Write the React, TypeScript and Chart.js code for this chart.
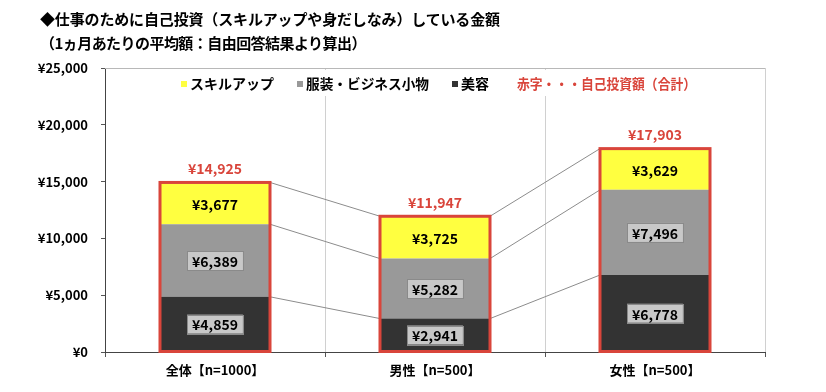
import React, { useEffect, useRef } from "react";
import { Chart, registerables } from "chart.js";

Chart.register(...registerables);

const FONT = '"Noto Sans CJK JP", "Noto Sans", sans-serif';

const titleLines = [
  "◆仕事のために自己投資（スキルアップや身だしなみ）している金額",
  "（1ヵ月あたりの平均額：自由回答結果より算出）",
];
const categories = ["全体【n=1000】", "男性【n=500】", "女性【n=500】"];
const seriesNames = ["美容", "服装・ビジネス小物", "スキルアップ"];
const beauty = [4859, 2941, 6778];
const clothing = [6389, 5282, 7496];
const skill = [3677, 3725, 3629];
const totals = [14925, 11947, 17903];
const totalLegend = "赤字・・・自己投資額（合計）";
const yMin = 0;
const yMax = 25000;
const yStep = 5000;

const colors = ["#333333", "#999999", "#ffff40"];
const legendOrder = [2, 1, 0];
const RED = "#d9453b";

const yen = (v: number) => "¥" + v.toLocaleString("en-US");

const overlay = {
  id: "overlay",
  afterDatasetsDraw(chart: any) {
    const ctx: CanvasRenderingContext2D = chart.ctx;
    const metas = [0, 1, 2].map((i) => chart.getDatasetMeta(i));
    const props = (d: number, c: number) =>
      metas[d].data[c].getProps(["x", "y", "base", "width"], true);
    const data = chart.data.datasets.map((ds: any) => ds.data as number[]);
    ctx.save();
    // series lines
    ctx.strokeStyle = "#8c8c8c";
    ctx.lineWidth = 1;
    for (let c = 0; c < categories.length - 1; c++) {
      for (let d = 0; d < 3; d++) {
        const a = props(d, c);
        const b = props(d, c + 1);
        ctx.beginPath();
        ctx.moveTo(a.x + a.width / 2, a.y);
        ctx.lineTo(b.x - b.width / 2, b.y);
        ctx.stroke();
      }
    }
    // outlines
    ctx.strokeStyle = RED;
    ctx.lineWidth = 3;
    for (let c = 0; c < categories.length; c++) {
      const top = props(2, c);
      const bot = props(0, c);
      ctx.strokeRect(
        bot.x - bot.width / 2,
        top.y,
        bot.width,
        bot.base - top.y
      );
    }
    // segment labels
    ctx.textAlign = "center";
    ctx.textBaseline = "middle";
    ctx.font = `bold 14px ${FONT}`;
    for (let d = 0; d < 3; d++) {
      for (let c = 0; c < categories.length; c++) {
        const p = props(d, c);
        const cy = (p.y + p.base) / 2;
        const txt = yen(data[d][c]);
        if (d < 2) {
          const w = ctx.measureText(txt).width + 10;
          const h = 19;
          ctx.fillStyle = "#c8c8c8";
          ctx.fillRect(p.x - w / 2, cy - h / 2, w, h);
          ctx.strokeStyle = "#8a8a8a";
          ctx.lineWidth = 1;
          ctx.strokeRect(
            Math.round(p.x - w / 2) + 0.5,
            Math.round(cy - h / 2) + 0.5,
            Math.round(w),
            h
          );
        }
        ctx.fillStyle = "#000";
        ctx.fillText(txt, p.x, cy + 1);
      }
    }
    // totals
    ctx.fillStyle = RED;
    for (let c = 0; c < categories.length; c++) {
      const p = props(2, c);
      ctx.fillText(yen(totals[c]), p.x, p.y - 14);
    }
    ctx.restore();
  },
  afterDraw(chart: any) {
    const ctx: CanvasRenderingContext2D = chart.ctx;
    const area = chart.chartArea;
    ctx.save();
    // top border
    ctx.strokeStyle = "#b8b8b8";
    ctx.lineWidth = 1;
    ctx.beginPath();
    ctx.moveTo(area.left, Math.round(area.top) + 0.5);
    ctx.lineTo(area.right, Math.round(area.top) + 0.5);
    ctx.stroke();
    // legend background
    ctx.fillStyle = "#fff";
    ctx.fillRect(area.left + 45, area.top + 2, area.right - area.left - 80, 26);
    // legend items
    ctx.font = `bold 14px ${FONT}`;
    ctx.textBaseline = "middle";
    ctx.textAlign = "left";
    const cy = area.top + 16;
    let x = area.left + 76;
    legendOrder.forEach((d) => {
      ctx.fillStyle = colors[d];
      ctx.fillRect(x, cy - 3, 6, 6);
      x += 9;
      ctx.fillStyle = "#000";
      ctx.save();
      const w = ctx.measureText(seriesNames[d]).width;
      const sx = d === 1 ? Math.min(1, 123 / w) : 1;
      ctx.translate(x, cy);
      ctx.scale(sx, 1);
      ctx.fillText(seriesNames[d], 0, 0);
      ctx.restore();
      x += w * sx + 23;
    });
    x += 5;
    ctx.fillStyle = RED;
    const tw = ctx.measureText(totalLegend).width;
    const s = Math.min(1, 179 / tw);
    ctx.translate(x, cy);
    ctx.scale(s, 1);
    ctx.fillText(totalLegend, 0, 0);
    ctx.restore();
  },
};

export default function App() {
  const ref = useRef<HTMLCanvasElement | null>(null);
  useEffect(() => {
    if (!ref.current) return;
    const chart = new Chart(ref.current, {
      type: "bar",
      data: {
        labels: categories,
        datasets: [beauty, clothing, skill].map((vals, i) => ({
          label: seriesNames[i],
          data: vals,
          backgroundColor: colors[i],
          borderWidth: 0,
          barPercentage: 0.5,
          categoryPercentage: 1,
        })),
      },
      options: {
        animation: false,
        responsive: true,
        maintainAspectRatio: false,
        layout: { padding: { top: 68, right: 61, left: 0, bottom: 0 } },
        plugins: {
          legend: { display: false },
          tooltip: { enabled: false },
          title: { display: false },
        },
        scales: {
          x: {
            stacked: true,
            afterFit: (s: any) => {
              s.height = 40;
            },
            grid: {
              offset: true,
              color: "#d0d0d0",
              tickColor: "#555",
              tickLength: 5,
              drawOnChartArea: true,
            },
            border: { color: "#444", width: 1 },
            ticks: {
              color: "#000",
              font: { family: FONT, size: 13, weight: "bold" },
              padding: 5,
            },
          },
          y: {
            stacked: true,
            min: yMin,
            max: yMax,
            afterFit: (s: any) => {
              s.width = 105;
            },
            grid: {
              drawOnChartArea: false,
              tickColor: "#555",
              tickLength: 4,
            },
            border: { color: "#444", width: 1 },
            ticks: {
              stepSize: yStep,
              color: "#000",
              padding: 13,
              font: { family: FONT, size: 13, weight: "bold" },
              callback: (v: any) => yen(Number(v)),
            },
          },
        },
      },
      plugins: [overlay],
    });
    return () => chart.destroy();
  }, []);

  return (
    <div style={{ position: "absolute", left: 0, top: 0, width: 826, height: 392, background: "#fff" }}>
      <canvas ref={ref} />
      <div
        style={{
          position: "absolute",
          left: 40,
          top: 7,
          fontFamily: FONT,
          fontWeight: "bold",
          fontSize: 15,
          lineHeight: "24px",
          color: "#000",
          whiteSpace: "nowrap",
        }}
      >
        {titleLines.map((t, i) => (
          <div key={i} style={{ letterSpacing: i === 0 ? "-0.15px" : "-0.55px" }}>
            {t}
          </div>
        ))}
      </div>
    </div>
  );
}
